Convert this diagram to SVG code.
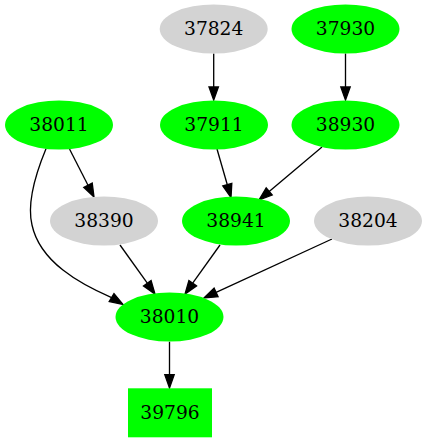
<svg xmlns="http://www.w3.org/2000/svg" width="427" height="443" viewBox="0 0 427 443">
<style>
.g{fill:#00ff00;stroke:none}
.l{fill:#d3d3d3;stroke:none}
text{font-family:"DejaVu Serif","Liberation Serif",serif;font-size:18.67px;text-anchor:middle;fill:#000}
.e{fill:none;stroke:#000;stroke-width:1.33}
.a{fill:#000;stroke:#000;stroke-width:1.33}
</style>
<rect width="427" height="443" fill="#fff"/>
<g id="edges">
<path class="e" d="M213.7,53.5 L213.7,87"/><polygon class="a" points="209,87 218.4,87 213.7,100"/>
<path class="e" d="M345.5,53.5 L345.5,87"/><polygon class="a" points="340.8,87 350.2,87 345.5,100"/>
<path class="e" d="M217,149 L227.3,184.7"/><polygon class="a" points="231.8,183.4 222.8,186 231,197.5"/>
<path class="e" d="M322,147 L269.2,191.4"/><polygon class="a" points="272.2,195 266.2,187.8 259,200"/>
<path class="e" d="M69.5,149 L88,185.2"/><polygon class="a" points="92.2,183.1 83.8,187.3 94,197"/>
<path class="e" d="M46,148.7 C38,168 26,200 32,225 C40,262 80,284 111.6,297.6"/><polygon class="a" points="114,293.6 109.2,301.6 123,304.5"/>
<path class="e" d="M120,245 L147.3,283.2"/><polygon class="a" points="151.1,280.5 143.5,285.9 155,294"/>
<path class="e" d="M220,245 L192.7,283.2"/><polygon class="a" points="196.5,285.9 188.9,280.5 185,294"/>
<path class="e" d="M332,239 L216.1,292.4"/><polygon class="a" points="218.1,296.7 214.1,288.1 204,298"/>
<path class="e" d="M169.5,341.7 L169.5,374.7"/><polygon class="a" points="164.8,374.7 174.2,374.7 169.5,388"/>
</g>
<g id="n37824"><ellipse class="l" cx="213.7" cy="29" rx="54" ry="24.5"/><text x="213.7" y="35">37824</text></g>
<g id="n37930"><ellipse class="g" cx="345.5" cy="29" rx="54" ry="24.5"/><text x="345.5" y="35">37930</text></g>
<g id="n38011"><ellipse class="g" cx="59" cy="125" rx="54" ry="24.5"/><text x="59" y="131">38011</text></g>
<g id="n37911"><ellipse class="g" cx="214" cy="125" rx="54" ry="24.5"/><text x="214" y="131">37911</text></g>
<g id="n38930"><ellipse class="g" cx="345.5" cy="125" rx="54" ry="24.5"/><text x="345.5" y="131">38930</text></g>
<g id="n38390"><ellipse class="l" cx="104" cy="221" rx="54" ry="24.5"/><text x="104" y="227">38390</text></g>
<g id="n38941"><ellipse class="g" cx="236" cy="221" rx="54" ry="24.5"/><text x="236" y="227">38941</text></g>
<g id="n38204"><ellipse class="l" cx="368" cy="221" rx="54" ry="24.5"/><text x="368" y="227">38204</text></g>
<g id="n38010"><ellipse class="g" cx="169.5" cy="317" rx="54" ry="24.5"/><text x="169.5" y="323">38010</text></g>
<g id="n39796"><rect class="g" x="128" y="388.3" width="84" height="49"/><text x="170" y="418.5">39796</text></g>
</svg>
